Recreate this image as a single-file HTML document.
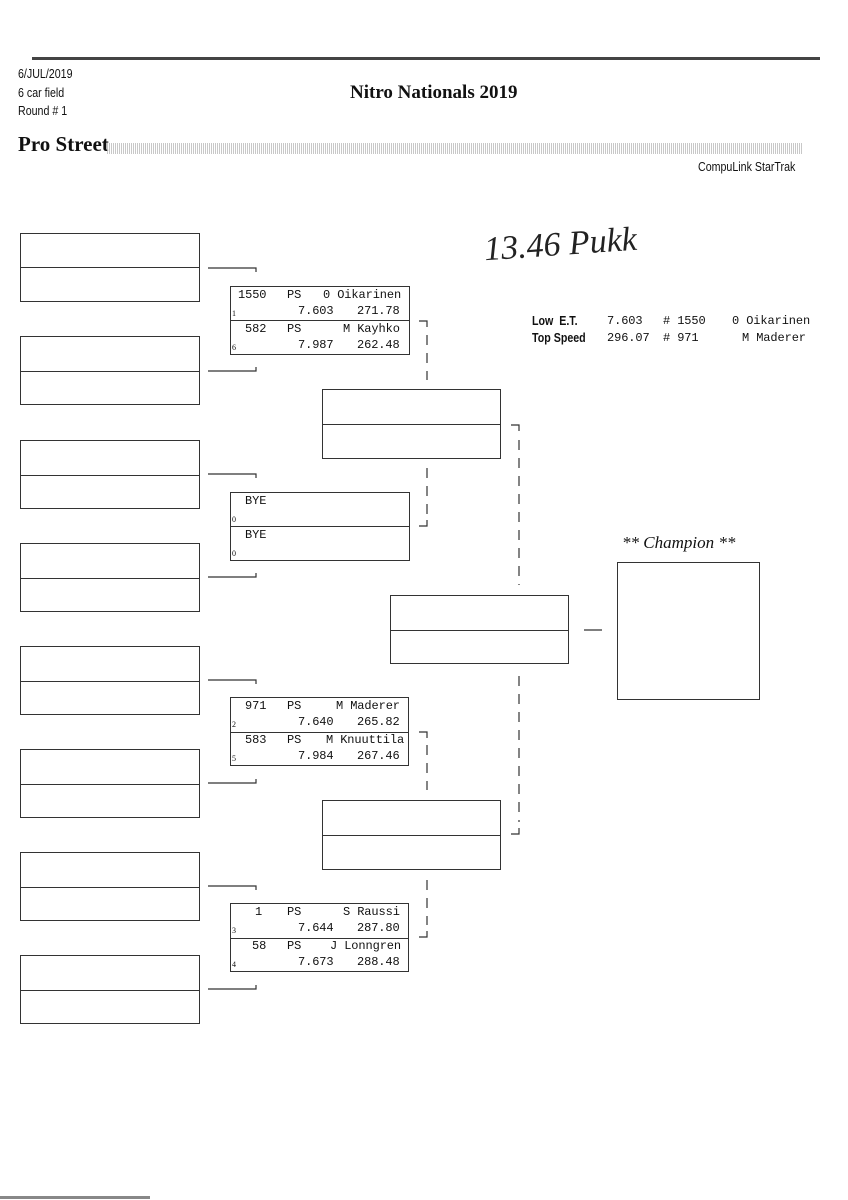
<!DOCTYPE html>
<html><head><meta charset="utf-8"><style>
body{margin:0;width:848px;height:1200px;background:#fff;position:relative;overflow:hidden;font-family:"Liberation Sans",sans-serif;color:#111}
.a{position:absolute;white-space:nowrap}
.b{position:absolute;border:1.3px solid #333;box-sizing:border-box}
.b .d{position:absolute;left:0;right:0;border-top:1.3px solid #333}
.m{font-family:"Liberation Mono",monospace;font-size:12px;letter-spacing:-0.1px}
.s{font-family:"Liberation Serif",serif;font-size:8px}
.n{font-family:"Liberation Sans",sans-serif;font-size:13px;transform:scaleX(0.82);transform-origin:left}
</style></head><body>
<div style="position:absolute;left:32px;top:57px;width:788px;height:3px;background:#444"></div>
<div style="position:absolute;left:0;top:1196px;width:150px;height:3px;background:#888"></div>
<div class="a n" style="left:18px;top:66px">6/JUL/2019</div>
<div class="a n" style="left:18px;top:85px">6 car field</div>
<div class="a n" style="left:18px;top:103px">Round # 1</div>
<div class="a" style="left:350px;top:82px;font-family:'Liberation Serif',serif;font-weight:bold;font-size:19px">Nitro Nationals 2019</div>
<div class="a" style="left:18px;top:132px;font-family:'Liberation Serif',serif;font-weight:bold;font-size:21px">Pro Street</div>
<div style="position:absolute;left:107px;top:143px;width:695px;height:11px;background:repeating-linear-gradient(90deg,#bbb 0 1px,#fff 1px 2px),#ddd;opacity:.8"></div>
<div class="a n" style="left:698px;top:159px;font-size:13px">CompuLink StarTrak</div>
<div class="a" style="left:484px;top:226px;font-family:'Liberation Serif',serif;font-style:italic;font-size:34px;color:#222;transform:rotate(-4deg)">13.46 Pukk</div>
<div class="a n" style="left:532px;top:313px;font-weight:bold;font-size:13px">Low &nbsp;E.T.</div>
<div class="a n" style="left:532px;top:330px;font-weight:bold;font-size:13px">Top Speed</div>
<div class="a m" style="left:607px;top:314px">7.603</div>
<div class="a m" style="left:607px;top:331px">296.07</div>
<div class="a m" style="left:663px;top:314px"># 1550</div>
<div class="a m" style="left:663px;top:331px"># 971</div>
<div class="a m" style="left:732px;top:314px">0 Oikarinen</div>
<div class="a m" style="left:742px;top:331px">M Maderer</div>

<div class="b" style="left:20px;top:233px;width:180px;height:69px"><div class="d" style="top:33px"></div></div>
<div class="b" style="left:20px;top:336px;width:180px;height:69px"><div class="d" style="top:34px"></div></div>
<div class="b" style="left:20px;top:440px;width:180px;height:69px"><div class="d" style="top:34px"></div></div>
<div class="b" style="left:20px;top:543px;width:180px;height:69px"><div class="d" style="top:34px"></div></div>
<div class="b" style="left:20px;top:646px;width:180px;height:69px"><div class="d" style="top:34px"></div></div>
<div class="b" style="left:20px;top:749px;width:180px;height:69px"><div class="d" style="top:34px"></div></div>
<div class="b" style="left:20px;top:852px;width:180px;height:69px"><div class="d" style="top:34px"></div></div>
<div class="b" style="left:20px;top:955px;width:180px;height:69px"><div class="d" style="top:34px"></div></div>

<div class="b" style="left:230px;top:286px;width:180px;height:69px"><div class="d" style="top:33px"></div></div>
<div class="b" style="left:230px;top:492px;width:180px;height:69px"><div class="d" style="top:33px"></div></div>
<div class="b" style="left:230px;top:697px;width:179px;height:69px"><div class="d" style="top:34px"></div></div>
<div class="b" style="left:230px;top:903px;width:179px;height:69px"><div class="d" style="top:34px"></div></div>
<div class="b" style="left:322px;top:389px;width:179px;height:70px"><div class="d" style="top:34px"></div></div>
<div class="b" style="left:322px;top:800px;width:179px;height:70px"><div class="d" style="top:34px"></div></div>
<div class="b" style="left:390px;top:595px;width:179px;height:69px"><div class="d" style="top:34px"></div></div>
<div class="b" style="left:617px;top:562px;width:143px;height:138px"></div>
<div class="a" style="left:622px;top:533px;font-family:'Liberation Serif',serif;font-style:italic;font-size:17px">** Champion **</div>

<svg width="848" height="1200" style="position:absolute;left:0;top:0" fill="none" stroke="#333" stroke-width="1.2">
<g>
<path d="M208 268H256V272"/><path d="M208 371H256V367"/>
<path d="M208 474H256V478"/><path d="M208 577H256V573"/>
<path d="M208 680H256V684"/><path d="M208 783H256V779"/>
<path d="M208 886H256V890"/><path d="M208 989H256V985"/>
<path d="M419 321H427V327"/><path d="M419 526H427V520"/>
<path d="M419 732H427V738"/><path d="M419 937H427V931"/>
<path d="M511 425H519V431"/><path d="M511 834H519V828"/>
<path d="M584 630H602"/>
</g>
<g stroke-dasharray="10 8">
<path d="M427 335V380"/><path d="M427 468V515"/>
<path d="M427 745V790"/><path d="M427 880V925"/>
<path d="M519 440V585"/><path d="M519 676V822"/>
</g>
</svg>

<div class="a m" style="left:238px;top:288px">1550</div><div class="a m" style="left:287px;top:288px">PS</div><div class="a m" style="left:323px;top:288px">0 Oikarinen</div>
<div class="a m" style="left:298px;top:304px">7.603</div><div class="a m" style="left:357px;top:304px">271.78</div>
<div class="a m" style="left:245px;top:322px">582</div><div class="a m" style="left:287px;top:322px">PS</div><div class="a m" style="left:343px;top:322px">M Kayhko</div>
<div class="a m" style="left:298px;top:338px">7.987</div><div class="a m" style="left:357px;top:338px">262.48</div>
<div class="a s" style="left:232px;top:309px">1</div><div class="a s" style="left:232px;top:343px">6</div>
<div class="a m" style="left:245px;top:494px">BYE</div><div class="a m" style="left:245px;top:528px">BYE</div>
<div class="a s" style="left:232px;top:515px">0</div><div class="a s" style="left:232px;top:549px">0</div>
<div class="a m" style="left:245px;top:699px">971</div><div class="a m" style="left:287px;top:699px">PS</div><div class="a m" style="left:336px;top:699px">M Maderer</div>
<div class="a m" style="left:298px;top:715px">7.640</div><div class="a m" style="left:357px;top:715px">265.82</div>
<div class="a m" style="left:245px;top:733px">583</div><div class="a m" style="left:287px;top:733px">PS</div><div class="a m" style="left:326px;top:733px">M Knuuttila</div>
<div class="a m" style="left:298px;top:749px">7.984</div><div class="a m" style="left:357px;top:749px">267.46</div>
<div class="a s" style="left:232px;top:720px">2</div><div class="a s" style="left:232px;top:754px">5</div>
<div class="a m" style="left:255px;top:905px">1</div><div class="a m" style="left:287px;top:905px">PS</div><div class="a m" style="left:343px;top:905px">S Raussi</div>
<div class="a m" style="left:298px;top:921px">7.644</div><div class="a m" style="left:357px;top:921px">287.80</div>
<div class="a m" style="left:252px;top:939px">58</div><div class="a m" style="left:287px;top:939px">PS</div><div class="a m" style="left:330px;top:939px">J Lonngren</div>
<div class="a m" style="left:298px;top:955px">7.673</div><div class="a m" style="left:357px;top:955px">288.48</div>
<div class="a s" style="left:232px;top:926px">3</div><div class="a s" style="left:232px;top:960px">4</div>
</body></html>
